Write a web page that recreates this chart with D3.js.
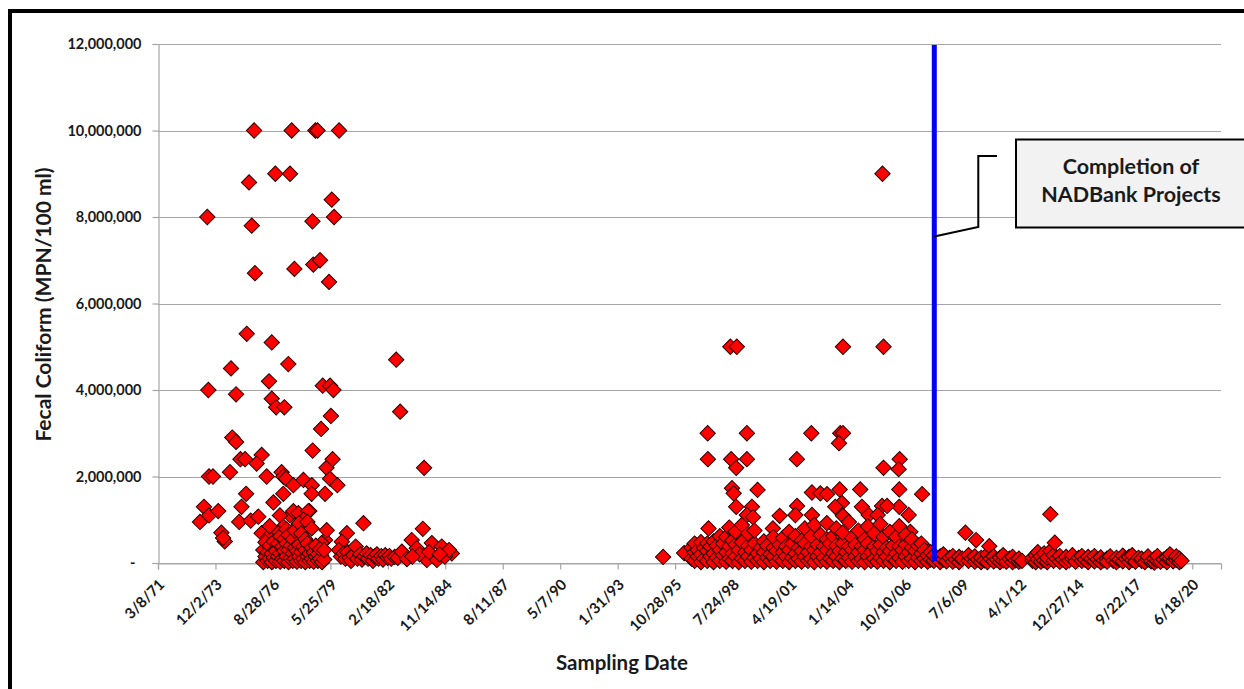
<!DOCTYPE html>
<html><head><meta charset="utf-8">
<script src="https://cdn.jsdelivr.net/npm/d3@7"></script>
<style>
body{margin:0;background:#fff;}
svg{display:block;font-family:Lato,"Open Sans",sans-serif;}
</style>
</head><body>
<svg id="chart" width="1244" height="689"></svg>
<script>
// ---------------- DATA ----------------
const xTickLabels = ["3/8/71","12/2/73","8/28/76","5/25/79","2/18/82","11/14/84","8/11/87","5/7/90","1/31/93","10/28/95","7/24/98","4/19/01","1/14/04","10/10/06","7/6/09","4/1/12","12/27/14","9/22/17","6/18/20"];
const yTickValues = [0, 2000000, 4000000, 6000000, 8000000, 10000000, 12000000];
const yTickLabels = ["-", "2,000,000", "4,000,000", "6,000,000", "8,000,000", "10,000,000", "12,000,000"];
const xTitle = "Sampling Date";
const yTitle = "Fecal Coliform (MPN/100 ml)";
const completionYear = 2008.17;               // NADBank projects completed (decimal year)
const annotationLines = ["Completion of", "NADBank Projects"];
const MILLION = 1000000;

// samples: [decimal year, fecal coliform in millions MPN/100 ml]
const early1970sHigh = [
 [1973.53,8.0],[1975.76,10.0],[1977.55,10.0],[1978.68,10.0],[1978.78,10.0],[1979.81,10.0],
 [1975.52,8.8],[1976.77,9.0],[1977.47,9.0],[1979.46,8.4],[1975.65,7.8],[1978.54,7.9],[1979.57,8.0],
 [1975.80,6.7],[1977.68,6.8],[1978.58,6.9],[1978.90,7.0],[1979.33,6.5],
 [1975.41,5.3],[1976.60,5.1],[1977.39,4.6],[1974.66,4.5],[1973.58,4.0],[1974.90,3.9],
 [1976.47,4.2],[1976.60,3.8],[1976.81,3.6],[1977.20,3.6],
 [1979.03,4.1],[1979.38,4.1],[1979.54,4.0],[1979.42,3.4],[1978.95,3.1],[1978.55,2.6],
 [1982.53,4.7],[1982.72,3.5],[1983.86,2.2]
];
const early1970sMid = [
 [1974.72,2.9],[1974.90,2.8],[1975.11,2.4],[1975.33,2.4],[1976.12,2.5],[1975.88,2.3],[1974.61,2.1],
 [1973.61,2.0],[1973.80,2.0],[1976.36,2.0],[1977.07,2.1],[1977.15,2.0],[1977.28,1.95],[1977.63,1.8],
 [1978.11,1.92],[1978.51,1.8],[1979.21,2.2],[1979.50,2.4],[1979.38,1.95],[1979.73,1.8],[1979.14,1.6],
 [1978.50,1.6],[1977.15,1.6],[1975.38,1.6],[1976.68,1.4],[1977.47,1.1],
 [1973.37,1.3],[1973.61,1.1],[1973.18,0.95],[1974.05,1.2],[1975.16,1.3],[1975.05,0.95],[1975.60,0.98],
 [1975.96,1.07],[1976.99,1.1],[1978.39,1.2],[1974.20,0.7],[1974.36,0.5],[1974.28,0.58],
 [1977.63,1.2],[1977.87,1.15],[1978.34,1.2],[1978.11,1.0],[1977.79,0.84],[1977.15,0.84],[1976.91,0.69],
 [1976.12,0.69],[1976.44,0.6],[1979.14,0.53],[1980.18,0.69],[1980.97,0.92],[1979.94,0.49],
 [1979.22,0.76],[1978.98,0.46],[1978.95,0.18]
];
const early1970sDense = [
 [1976.20,[0.02,0.30]],[1976.30,[0.15,0.48]],[1976.40,[0.05,0.25]],[1976.50,[0.10,0.40,0.85]],
 [1976.60,[0.02,0.22]],[1976.70,[0.12,0.50]],[1976.80,[0.05,0.28]],[1976.90,[0.15,0.45]],
 [1977.00,[0.03,0.22,0.62]],[1977.10,[0.10,0.38]],[1977.20,[0.05,0.28,0.55]],[1977.30,[0.15,0.45,0.78]],
 [1977.40,[0.02,0.30,0.65]],[1977.50,[0.12,0.40]],[1977.60,[0.05,0.22,0.55]],[1977.70,[0.10,0.35,0.75]],
 [1977.80,[0.03,0.28]],[1977.90,[0.15,0.42,0.92]],[1978.00,[0.05,0.25,0.68]],[1978.10,[0.10,0.38]],
 [1978.20,[0.02,0.30,0.55]],[1978.30,[0.15,0.45,0.95]],[1978.40,[0.05,0.22]],[1978.50,[0.10,0.35,0.80]],
 [1978.60,[0.03,0.25]],[1978.70,[0.15,0.40]],[1978.80,[0.05,0.20]],[1978.90,[0.10,0.32]],
 [1979.00,[0.02]],[1979.10,[0.08,0.30]]
];
const early1980s = [
 [1979.80,0.30],[1979.90,0.15],[1980.02,0.22],[1980.11,0.10],[1980.22,0.25],[1980.31,0.12],[1980.38,0.05],
 [1980.50,0.18],[1980.60,0.38],[1980.68,0.10],[1980.81,0.20],[1980.90,0.08],[1981.01,0.15],[1981.12,0.22],
 [1981.19,0.10],[1981.31,0.18],[1981.42,0.05],[1981.50,0.15],[1981.61,0.20],[1981.69,0.10],[1981.82,0.16],
 [1981.90,0.08],[1982.01,0.18],[1982.12,0.12],[1982.21,0.16],[1982.29,0.10],[1982.46,0.14],[1982.61,0.12],
 [1982.80,0.26],[1983.04,0.09],[1983.27,0.53],[1983.51,0.34],[1983.80,0.79],[1983.99,0.07],[1984.23,0.46],
 [1984.47,0.07],[1984.70,0.38],[1985.18,0.22],[1983.65,0.20],[1984.10,0.25],[1984.85,0.15],[1985.05,0.30],
 [1983.30,0.15],[1984.60,0.20]
];
const late1990sHigh = [
 [1995.25,0.14],[1996.25,0.23],
 [1998.45,5.0],[1998.76,5.0],[2003.82,5.0],[2005.75,5.0],[2005.70,9.0],
 [1997.37,3.0],[1999.24,3.0],[2002.31,3.0],[2003.69,3.0],[2003.82,3.0],[2003.63,2.77],
 [1997.38,2.4],[1998.49,2.4],[1999.24,2.4],[2001.62,2.4],[2006.52,2.4],[1998.73,2.2],[2005.75,2.2],[2006.47,2.17],
 [1998.53,1.73],[1998.61,1.61],[1999.75,1.69],[1998.73,1.3],[1999.48,1.3],[1999.24,1.11],[1999.53,1.06],
 [2000.80,1.09],[2001.63,1.32],[2001.55,1.11],[1997.41,0.80],[2000.48,0.80],
 [2002.34,1.63],[2002.74,1.61],[2003.06,1.59],[2003.66,1.70],[2004.64,1.70],[2006.50,1.70],[2007.59,1.59],
 [2003.77,1.39],[2003.45,1.30],[2004.72,1.30],[2005.68,1.32],[2006.50,1.30],[2005.92,1.32],[2002.34,1.11],
 [2003.82,1.09],[2005.04,1.11],[2005.47,1.11],[2006.95,1.11],[2007.03,0.72],[2007.72,0.35]
];
const late1990sDense = [
 [1996.60,[0.10,0.35]],[1996.75,[0.05,0.25,0.45]],[1996.90,[0.15,0.30]],[1997.05,[0.02,0.20,0.48]],
 [1997.20,[0.10,0.35]],[1997.35,[0.05,0.28,0.45]],[1997.50,[0.15,0.38]],[1997.65,[0.02,0.22,0.50]],
 [1997.80,[0.12,0.40]],[1997.95,[0.05,0.30,0.62]],[1998.10,[0.18,0.45]],[1998.25,[0.03,0.25,0.60]],
 [1998.40,[0.10,0.38,0.82]],[1998.55,[0.05,0.22,0.52]],[1998.70,[0.15,0.42,0.72]],[1998.85,[0.02,0.30]],
 [1999.00,[0.10,0.48,0.88]],[1999.15,[0.05,0.25]],[1999.30,[0.15,0.40,0.68]],[1999.45,[0.03,0.30]],
 [1999.60,[0.12,0.45,0.75]],[1999.75,[0.05,0.22]],[1999.90,[0.10,0.35]],[2000.05,[0.02,0.25,0.50]],
 [2000.20,[0.12,0.40]],[2000.35,[0.05,0.20]],[2000.50,[0.15,0.35,0.60]],[2000.65,[0.03,0.28]],
 [2000.80,[0.10,0.42]],[2000.95,[0.05,0.25,0.58]],[2001.10,[0.15,0.38]],[2001.25,[0.02,0.30,0.72]],
 [2001.40,[0.12,0.45]],[2001.55,[0.05,0.22,0.62]],[2001.70,[0.10,0.35]],[2001.85,[0.03,0.28,0.52]],
 [2002.00,[0.15,0.45,0.80]],[2002.15,[0.05,0.25]],[2002.30,[0.10,0.38,0.62]],[2002.45,[0.02,0.30,0.88]],
 [2002.60,[0.15,0.42]],[2002.75,[0.05,0.25,0.65]],[2002.90,[0.12,0.38]],[2003.05,[0.03,0.30,0.55,0.92]],
 [2003.20,[0.10,0.45]],[2003.35,[0.05,0.22,0.62]],[2003.50,[0.15,0.40,0.80]],[2003.65,[0.02,0.28]],
 [2003.80,[0.10,0.45,0.70]],[2003.95,[0.05,0.25]],[2004.10,[0.12,0.38,0.95]],[2004.25,[0.03,0.30,0.58]],
 [2004.40,[0.15,0.42]],[2004.55,[0.05,0.25,0.75]],[2004.70,[0.10,0.38]],[2004.85,[0.02,0.30,0.55]],
 [2005.00,[0.15,0.45,0.85]],[2005.15,[0.05,0.25]],[2005.30,[0.10,0.38,0.68]],[2005.45,[0.03,0.28]],
 [2005.60,[0.12,0.42,0.90]],[2005.75,[0.05,0.25,0.60]],[2005.90,[0.15,0.35]],[2006.05,[0.02,0.28,0.72]],
 [2006.20,[0.10,0.40]],[2006.35,[0.05,0.22,0.60]],[2006.50,[0.12,0.38,0.85]],[2006.65,[0.03,0.30]],
 [2006.80,[0.15,0.42,0.65]],[2006.95,[0.05,0.25]],[2007.10,[0.10,0.35,0.55]],[2007.25,[0.02,0.28]],
 [2007.40,[0.12,0.40]],[2007.55,[0.05,0.22,0.45]],[2007.70,[0.10,0.30]],[2007.85,[0.03,0.18]],
 [2008.00,[0.08,0.25]]
];
const postProject = [
 [2008.15,[0.05,0.18]],[2008.30,[0.10]],[2008.45,[0.02,0.15]],[2008.60,[0.08,0.20]],[2008.75,[0.04]],[2008.90,[0.12]],
 [2009.05,[0.03,0.16]],[2009.20,[0.08]],[2009.35,[0.02,0.14]],[2009.50,[0.10]],[2009.65,[0.70]],[2009.80,[0.05,0.18]],
 [2009.95,[0.10]],[2010.10,[0.03,0.15]],[2010.16,[0.53]],[2010.25,[0.08]],[2010.40,[0.02,0.12]],[2010.55,[0.06]],
 [2010.70,[0.02,0.20]],[2010.79,[0.39]],[2010.85,[0.10]],[2011.00,[0.04,0.15]],[2011.15,[0.08]],[2011.30,[0.02,0.12]],
 [2011.45,[0.06,0.18]],[2011.60,[0.03]],[2011.75,[0.10]],[2011.90,[0.02,0.14]],[2012.05,[0.06]],[2012.20,[0.03,0.10]],
 [2012.35,[0.05]],[2012.85,[0.05,0.12]],[2013.00,[0.02,0.18]],[2013.10,[0.08,0.25]],[2013.25,[0.03,0.15]],
 [2013.40,[0.06,0.22]],[2013.55,[0.02,0.12]],[2013.70,[1.13,0.28]],[2013.85,[0.05,0.18]],[2013.91,[0.47]],
 [2014.00,[0.10]],[2014.15,[0.03,0.16]],[2014.30,[0.08]],[2014.45,[0.02,0.14]],[2014.60,[0.06]],[2014.75,[0.10,0.18]],
 [2014.90,[0.03]],[2015.05,[0.12]],[2015.20,[0.05,0.16]],[2015.35,[0.08]],[2015.50,[0.02,0.14]],[2015.65,[0.10]],
 [2015.80,[0.04,0.16]],[2015.95,[0.08]],[2016.10,[0.02,0.13]],[2016.25,[0.06]],[2016.40,[0.10,0.03]],[2016.55,[0.15]],
 [2016.70,[0.05]],[2016.85,[0.02,0.12]],[2017.00,[0.08]],[2017.15,[0.04,0.17]],[2017.30,[0.10]],[2017.45,[0.02,0.14]],
 [2017.60,[0.07,0.18]],[2017.75,[0.03]],[2017.90,[0.12]],[2018.05,[0.05,0.10]],[2018.20,[0.02]],[2018.35,[0.08,0.15]],
 [2018.50,[0.04]],[2018.65,[0.01,0.10]],[2018.80,[0.06,0.16]],[2018.95,[0.03]],[2019.10,[0.08]],[2019.25,[0.02,0.13]],
 [2019.40,[0.10,0.20]],[2019.55,[0.04]],[2019.70,[0.07,0.15]],[2019.85,[0.02,0.10]],[2019.95,[0.05]]
];

// ---------------- HELPERS ----------------
function yearToDate(y){
  const yr = Math.floor(y), s = Date.UTC(yr,0,1), e = Date.UTC(yr+1,0,1);
  return new Date(s + (y - yr) * (e - s));
}
function parseMDY(str){
  const [m,d,yy] = str.split("/").map(Number);
  return new Date(Date.UTC(yy < 30 ? 2000 + yy : 1900 + yy, m - 1, d));
}
const expand = cols => cols.flatMap(([yr, vals]) => vals.map(v => [yr, v]));
const samples = [].concat(
  early1970sHigh, early1970sMid, expand(early1970sDense), early1980s,
  late1990sHigh, expand(late1990sDense), expand(postProject)
).map(([yr, v]) => ({date: yearToDate(yr), value: v * MILLION}));

// ---------------- CHART ----------------
const svg = d3.select("#chart");
const plot = {left:158, right:1221, top:44, bottom:563};
const DAY = 86400000;
const tickDates = xTickLabels.map(parseMDY);
const x = d3.scaleUtc()
  .domain([tickDates[0], new Date(+tickDates[0] + 18500 * DAY)])
  .range([plot.left, plot.right]);
const y = d3.scaleLinear().domain([0, 12 * MILLION]).range([plot.bottom, plot.top]);

// frame
svg.append("rect").attr("x",10).attr("y",11).attr("width",1400).attr("height",1000)
  .attr("fill","none").attr("stroke","#000").attr("stroke-width",4);

// gridlines
svg.append("g").selectAll("line").data(yTickValues).join("line")
  .attr("x1",plot.left).attr("x2",plot.right)
  .attr("y1",d=>Math.round(y(d))+0.5).attr("y2",d=>Math.round(y(d))+0.5)
  .attr("stroke","#a6a6a6").attr("stroke-width",1.2);

// y axis
const yAxis = d3.axisLeft(y).tickValues(yTickValues).tickSize(6).tickPadding(11)
  .tickFormat((d,i)=>yTickLabels[i]);
const gy = svg.append("g").attr("transform",`translate(${plot.left+0.5},0)`).call(yAxis);
gy.select(".domain").attr("stroke","#a6a6a6").attr("stroke-width",1.2);
gy.selectAll(".tick line").attr("stroke","#a6a6a6").attr("stroke-width",1.2);
gy.selectAll(".tick text").attr("font-family","Lato").attr("font-weight","bold")
  .attr("font-size",14.5).attr("fill","#1a1a1a")
  .attr("dx",(d,i)=> i===0 ? -6 : 0);

// x axis
const xAxis = d3.axisBottom(x).tickValues(tickDates).tickSize(6).tickFormat((d,i)=>xTickLabels[i]);
const gx = svg.append("g").attr("transform",`translate(0,${plot.bottom+0.5})`).call(xAxis);
gx.select(".domain").attr("stroke","#a6a6a6").attr("stroke-width",1.2);
gx.selectAll(".tick line").attr("stroke","#a6a6a6").attr("stroke-width",1.2);
gx.selectAll(".tick text").attr("font-family","Lato").attr("font-weight","bold")
  .attr("font-size",15).attr("fill","#1a1a1a")
  .attr("text-anchor","end").attr("y",0).attr("dy",0)
  .attr("transform","translate(7,22) rotate(-45)");

// points (rotated squares = diamonds)
const diamond = d3.symbol().type(d3.symbolSquare).size(118);
svg.append("g").selectAll("path").data(samples).join("path")
  .attr("d", diamond)
  .attr("transform", d => `translate(${x(d.date)},${y(d.value)}) rotate(45)`)
  .attr("fill","#ff0000").attr("stroke","#2a0000").attr("stroke-width",1);

// completion line
const xc = x(yearToDate(completionYear));
svg.append("line").attr("x1",xc).attr("x2",xc).attr("y1",y(12*MILLION)+1).attr("y2",plot.bottom-2)
  .attr("stroke","#0000ff").attr("stroke-width",5);

// callout
const box = {x:1016, y:139.5, w:230, h:88};
const yLead = y(7.55 * MILLION);
svg.append("polyline")
  .attr("points",[[xc,yLead],[xc+44,yLead-9.5],[xc+44,box.y+16.5],[box.x-19,box.y+16.5]].map(p=>p.join(",")).join(" "))
  .attr("fill","none").attr("stroke","#000").attr("stroke-width",2);
svg.append("rect").attr("x",box.x).attr("y",box.y).attr("width",box.w).attr("height",box.h)
  .attr("fill","#f2f2f2").attr("stroke","#000").attr("stroke-width",2);
svg.append("g").selectAll("text").data(annotationLines).join("text")
  .attr("x",box.x+box.w/2).attr("y",(d,i)=>box.y+34+i*28.5)
  .attr("text-anchor","middle").attr("font-weight","bold").attr("font-size",21.5).attr("fill","#1a1a1a")
  .text(d=>d);

// axis titles
svg.append("text").attr("x",622).attr("y",670).attr("text-anchor","middle")
  .attr("font-weight","bold").attr("font-size",20.5).attr("fill","#1a1a1a").text(xTitle);
svg.append("text").attr("transform","translate(51,304.5) rotate(-90)").attr("text-anchor","middle")
  .attr("font-weight","bold").attr("font-size",21).attr("fill","#1a1a1a").text(yTitle);
</script>
</body></html>
